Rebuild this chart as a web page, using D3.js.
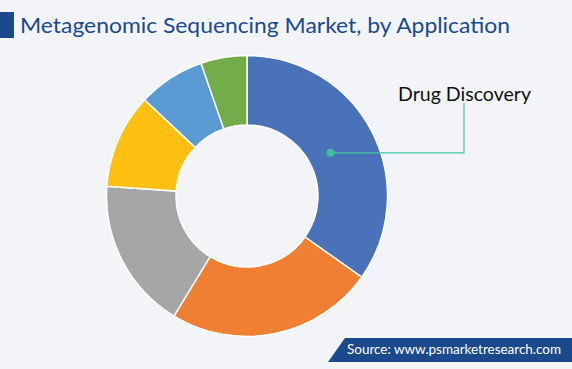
<!DOCTYPE html>
<html>
<head>
<meta charset="utf-8">
<script src="https://cdn.jsdelivr.net/npm/d3@7"></script>
<style>
  html, body { margin: 0; padding: 0; background: #f2f4f8; }
  svg { display: block; }
</style>
</head>
<body>
<div id="chart"></div>
<script>
// market share by application (%)
var categories = ["Drug Discovery", "Segment 2", "Segment 3", "Segment 4", "Segment 5", "Segment 6"];
var shares = [34.8, 23.9, 17.4, 10.9, 7.7, 5.3];
var colors = ["#4a72b8", "#ee7f33", "#a5a6a5", "#fdc010", "#5b9bd3", "#72ad4a"];
var labelled = ["Drug Discovery"];

var width = 572,
    height = 369;

var svg = d3.select("#chart")
    .append("svg")
    .attr("width", width)
    .attr("height", height)
    .style("font-family", "Lato, 'Open Sans', sans-serif");

svg.append("rect")
    .attr("width", width)
    .attr("height", height)
    .attr("fill", "#f2f4f8");

// title
svg.append("rect")
    .attr("x", 0).attr("y", 12)
    .attr("width", 14).attr("height", 26)
    .attr("fill", "#1b4a8c");

svg.append("text")
    .attr("x", 20).attr("y", 33)
    .attr("font-size", 21)
    .attr("fill", "#1b4a8c")
    .attr("textLength", 490)
    .attr("lengthAdjust", "spacingAndGlyphs")
    .text("Metagenomic Sequencing Market, by Application");

// donut
var cx = 247, cy = 196,
    outerR = 140.5, innerR = 71;

var color = d3.scaleOrdinal().domain(categories).range(colors);

var pie = d3.pie()
    .value(function (d) { return d.value; })
    .sort(null);

var arc = d3.arc()
    .innerRadius(innerR)
    .outerRadius(outerR);

var data = categories.map(function (c, i) { return { name: c, value: shares[i] }; });
var arcs = pie(data);

var g = svg.append("g")
    .attr("transform", "translate(" + cx + "," + cy + ")");

g.selectAll("path.slice")
    .data(arcs)
  .enter().append("path")
    .attr("class", "slice")
    .attr("d", arc)
    .attr("fill", function (d) { return color(d.data.name); })
    .attr("stroke", "#ffffff")
    .attr("stroke-width", 1.5);

// leader line for the labelled slice
var dotArc = d3.arc().innerRadius(94).outerRadius(94);
var elbowX = 464, labelY = 103;

arcs.filter(function (d) { return labelled.indexOf(d.data.name) >= 0; })
    .forEach(function (d) {
        var p = dotArc.centroid(d);
        var px = cx + p[0], py = cy + p[1];
        svg.append("path")
            .attr("d", "M" + px + "," + py + "L" + elbowX + "," + py + "L" + elbowX + "," + labelY)
            .attr("fill", "none")
            .attr("stroke", "#45c3a0")
            .attr("stroke-width", 1.2);
        svg.append("circle")
            .attr("cx", px).attr("cy", py)
            .attr("r", 4)
            .attr("fill", "#3dbf9c");
        svg.append("text")
            .attr("x", 398).attr("y", 101)
            .attr("font-size", 19)
            .attr("fill", "#111111")
            .attr("textLength", 133)
            .attr("lengthAdjust", "spacingAndGlyphs")
            .text(d.data.name);
    });

// source banner
svg.append("path")
    .attr("d", "M345,338L572,338L572,362L328,362Z")
    .attr("fill", "#1b4a8c");

svg.append("text")
    .attr("x", 347).attr("y", 354)
    .attr("font-size", 13.5)
    .attr("fill", "#ffffff")
    .attr("textLength", 214)
    .attr("lengthAdjust", "spacingAndGlyphs")
    .text("Source: www.psmarketresearch.com");
</script>
</body>
</html>
